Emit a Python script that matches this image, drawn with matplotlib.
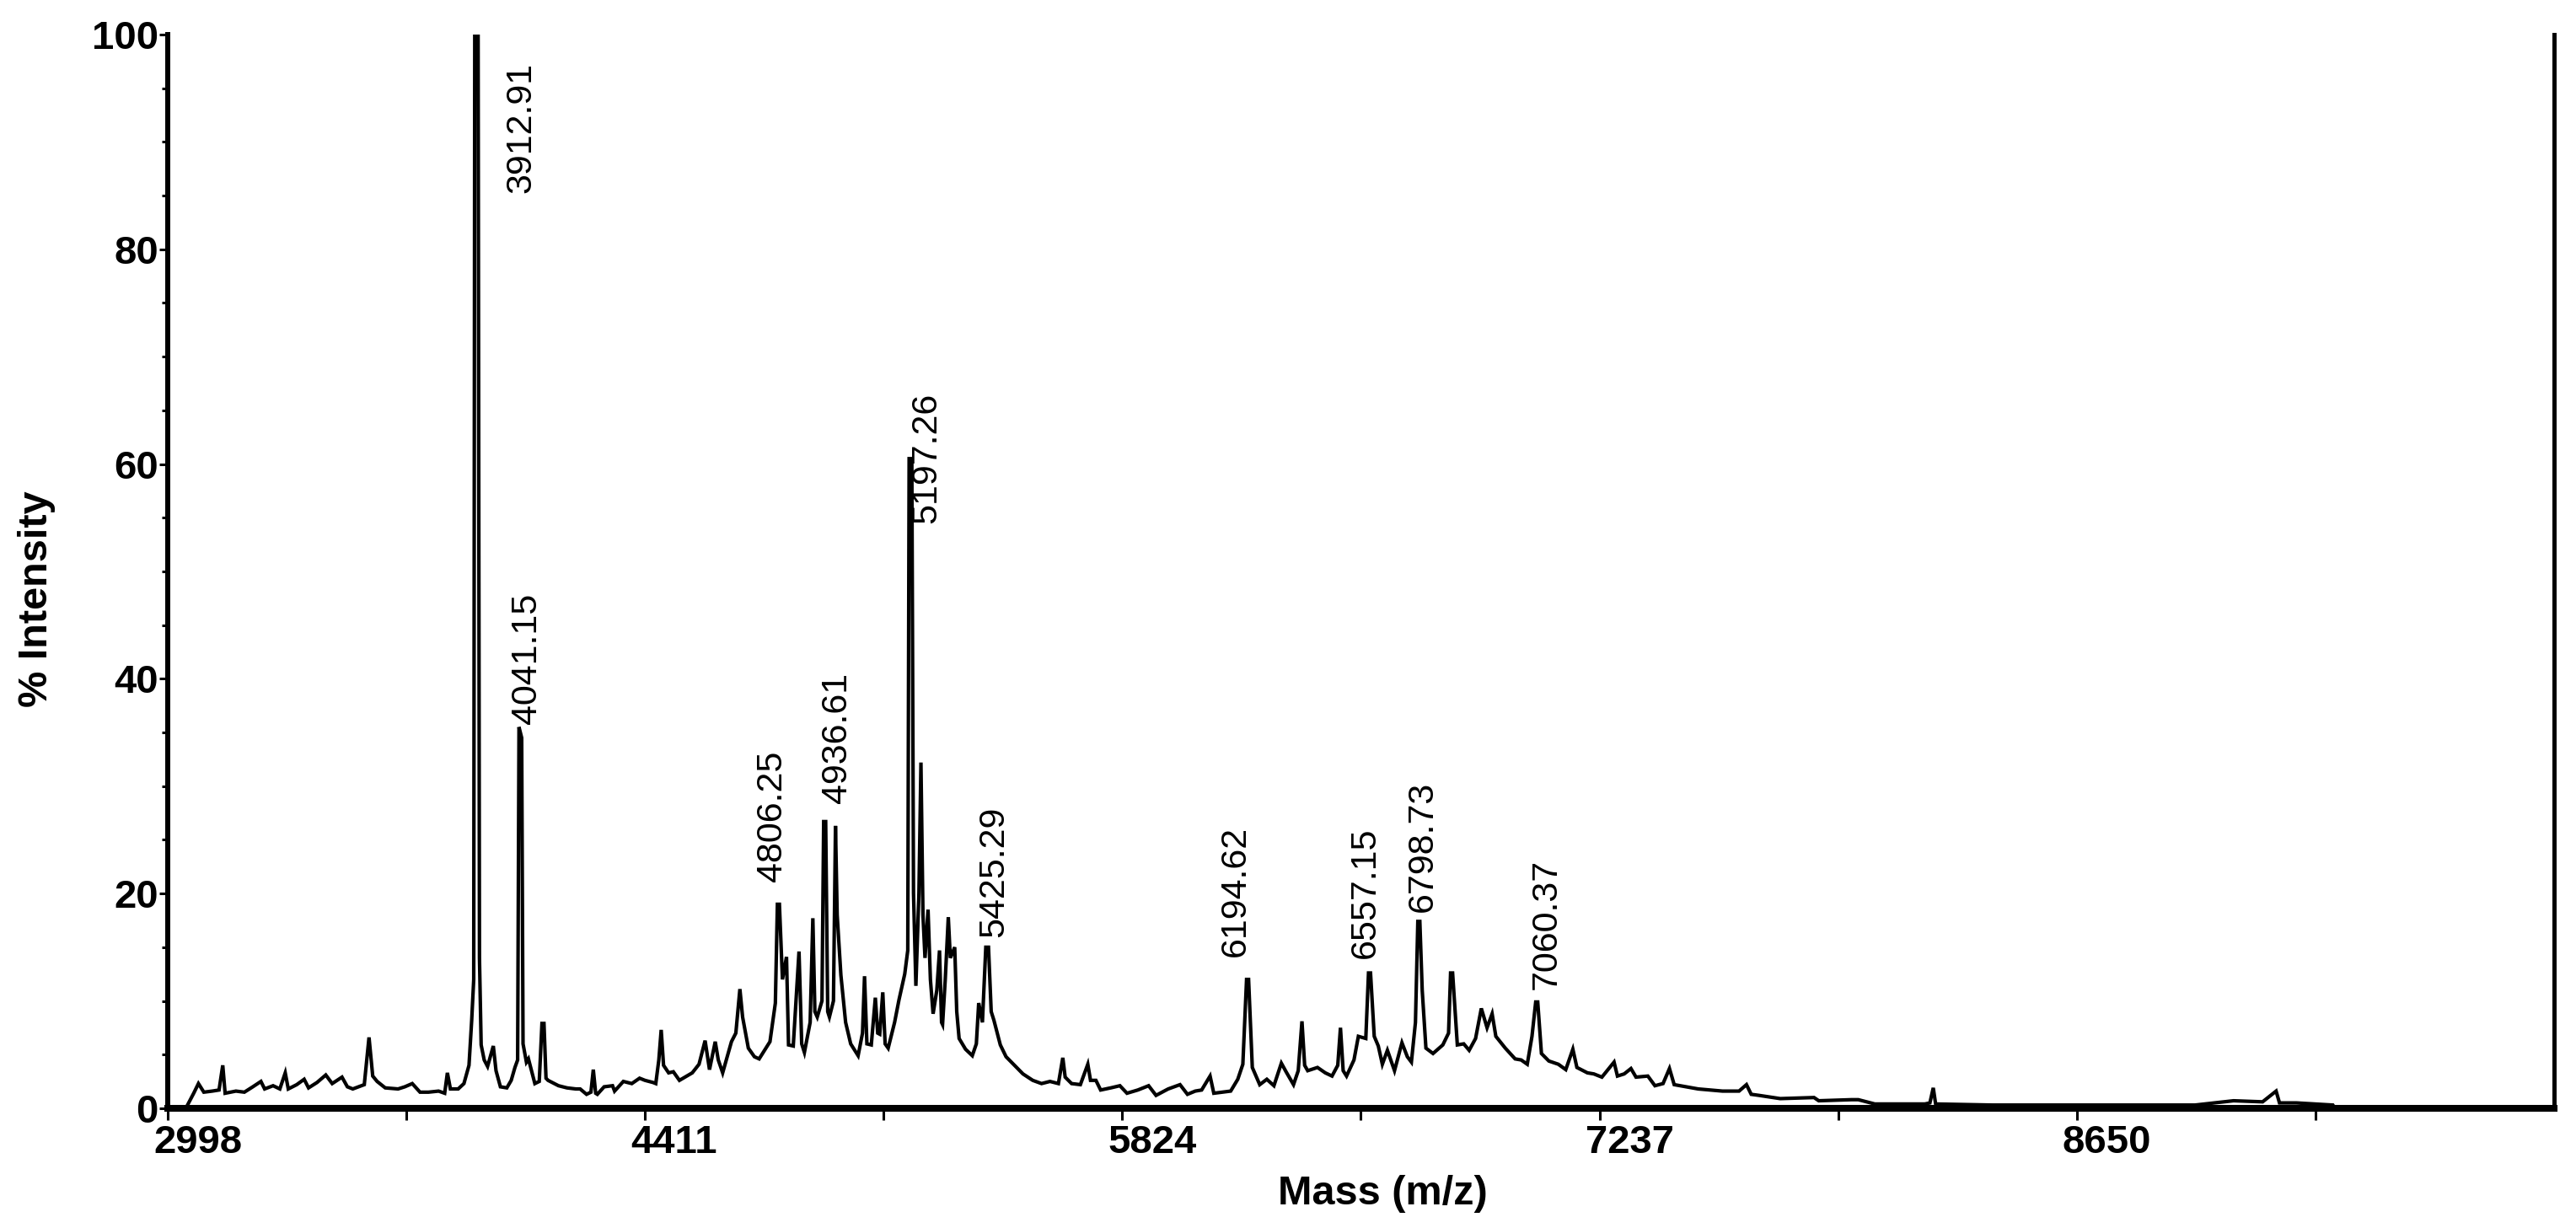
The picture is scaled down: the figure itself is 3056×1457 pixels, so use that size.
# MALDI-TOF mass spectrum, % intensity vs mass (m/z)

import numpy as np
import matplotlib.pyplot as plt
from matplotlib.transforms import ScaledTranslation

# Spectrum trace (mass in m/z, intensity in %) --------------------------------------------------------------

mass = [3055, 3075, 3089, 3105, 3130, 3150, 3161, 3168, 3200, 3225, 3250, 3274, 3285, 3310, 3330,
        3346, 3355, 3380, 3402, 3415, 3440, 3466, 3485, 3514, 3530, 3546, 3580, 3594, 3605, 3618,
        3642, 3680, 3700, 3722, 3745, 3770, 3800, 3818, 3826, 3835, 3858, 3875, 3890, 3898, 3904,
        3907, 3917, 3921, 3926, 3935, 3945, 3962, 3970, 3983, 4002, 4015, 4026, 4034, 4038, 4046,
        4050, 4060, 4066, 4085, 4098, 4106, 4112, 4118, 4124, 4155, 4180, 4206, 4219, 4238, 4251,
        4258, 4265, 4270, 4290, 4315, 4321, 4347, 4372, 4395, 4411, 4435, 4443, 4452, 4459, 4466,
        4481, 4495, 4513, 4535, 4551, 4571, 4589, 4602, 4619, 4628, 4641, 4667, 4680, 4692, 4700,
        4717, 4735, 4749, 4781, 4797, 4803, 4809, 4818, 4830, 4836, 4850, 4867, 4875, 4883, 4900,
        4908, 4914, 4921, 4935, 4940, 4946, 4952, 4957, 4969, 4975, 4980, 4991, 5005, 5020, 5042,
        5055, 5061, 5068, 5081, 5093, 5100, 5106, 5115, 5122, 5131, 5150, 5163, 5180, 5189, 5193,
        5201, 5206, 5213, 5222, 5228, 5234, 5240, 5249, 5256, 5264, 5275, 5283, 5289, 5292, 5300,
        5309, 5315, 5328, 5334, 5341, 5360, 5380, 5392, 5399, 5410, 5420, 5428, 5436, 5444, 5463,
        5480, 5508, 5530, 5559, 5585, 5610, 5635, 5648, 5655, 5674, 5700, 5722, 5730, 5746, 5760,
        5790, 5817, 5838, 5870, 5902, 5924, 5960, 5995, 6017, 6040, 6059, 6084, 6095, 6120, 6145,
        6166, 6181, 6192, 6198, 6209, 6231, 6252, 6273, 6295, 6309, 6331, 6345, 6356, 6364, 6373,
        6402, 6425, 6445, 6462, 6470, 6478, 6488, 6510, 6523, 6545, 6553, 6559, 6570, 6582, 6594,
        6609, 6630, 6652, 6668, 6680, 6692, 6699, 6705, 6712, 6723, 6744, 6773, 6790, 6796, 6802,
        6816, 6835, 6851, 6870, 6887, 6904, 6919, 6930, 6958, 6987, 7005, 7023, 7037, 7048, 7054,
        7065, 7087, 7115, 7137, 7158, 7170, 7201, 7220, 7244, 7280, 7290, 7310, 7330, 7345, 7380,
        7401, 7425, 7444, 7458, 7529, 7601, 7650, 7672, 7686, 7709, 7772, 7872, 7886, 7983, 8003,
        8052, 8200, 8215, 8225, 8232, 8400, 8591, 8800, 9000, 9114, 9200, 9240, 9250, 9300, 9408,
        9414]

intensity = [0.2, 1.4, 2.3, 1.5, 1.6, 1.7, 4.0, 1.4, 1.6, 1.5, 2.0, 2.5, 1.8, 2.1, 1.8,
             3.3, 1.8, 2.2, 2.7, 1.9, 2.4, 3.1, 2.3, 2.9, 2.0, 1.8, 2.2, 6.6, 3.0, 2.5,
             1.9, 1.8, 2.0, 2.3, 1.5, 1.5, 1.6, 1.4, 3.3, 1.8, 1.8, 2.3, 4.0, 8.2, 12.0,
             100.0, 100.0, 14.0, 5.9, 4.5, 3.9, 5.8, 3.5, 2.0, 1.9, 2.6, 3.8, 4.5, 35.5, 34.5,
             6.0, 4.3, 4.6, 2.3, 2.5, 7.9, 7.9, 2.8, 2.6, 2.1, 1.9, 1.8, 1.8, 1.3, 1.5,
             3.6, 1.4, 1.3, 2.0, 2.1, 1.6, 2.5, 2.3, 2.8, 2.6, 2.4, 2.3, 4.5, 7.3, 4.0,
             3.3, 3.4, 2.6, 3.0, 3.3, 4.1, 6.3, 3.6, 6.2, 4.5, 3.3, 6.2, 7.0, 11.1, 8.5,
             5.6, 4.8, 4.6, 6.2, 9.8, 19.0, 19.0, 12.0, 14.1, 5.9, 5.8, 14.6, 6.0, 5.2, 8.0,
             17.7, 9.0, 8.5, 10.0, 26.7, 26.7, 9.0, 8.5, 10.0, 26.3, 18.0, 12.4, 8.0, 6.0, 4.9,
             7.0, 12.3, 6.0, 5.9, 10.3, 7.0, 6.9, 10.8, 6.0, 5.6, 8.0, 10.1, 12.5, 14.7, 60.5,
             60.5, 20.0, 11.4, 20.0, 32.2, 18.0, 14.0, 18.5, 12.0, 8.8, 11.0, 14.7, 8.0, 7.8, 12.0,
             17.8, 14.0, 15.0, 9.0, 6.5, 5.5, 4.9, 6.0, 9.8, 8.0, 15.0, 15.0, 9.0, 8.2, 5.9,
             4.8, 3.9, 3.2, 2.6, 2.3, 2.5, 2.3, 4.7, 2.9, 2.3, 2.2, 4.1, 2.6, 2.6, 1.7,
             1.9, 2.1, 1.4, 1.7, 2.1, 1.2, 1.8, 2.2, 1.3, 1.6, 1.7, 3.0, 1.4, 1.5, 1.6,
             2.7, 4.1, 12.0, 12.0, 3.8, 2.2, 2.7, 2.1, 4.2, 3.4, 2.2, 3.5, 8.1, 4.0, 3.5,
             3.8, 3.3, 3.0, 4.0, 7.5, 3.5, 3.0, 4.5, 6.7, 6.5, 12.6, 12.6, 6.7, 5.8, 4.1,
             5.4, 3.5, 6.1, 4.8, 4.3, 8.0, 17.4, 17.4, 11.0, 5.6, 5.1, 5.9, 7.0, 12.6, 12.6,
             5.9, 6.0, 5.4, 6.5, 9.3, 7.5, 8.8, 6.7, 5.6, 4.6, 4.5, 4.1, 6.7, 9.9, 9.9,
             5.1, 4.4, 4.1, 3.6, 5.5, 3.8, 3.3, 3.2, 2.9, 4.3, 3.0, 3.2, 3.7, 2.9, 3.0,
             2.1, 2.3, 3.7, 2.2, 1.8, 1.6, 1.6, 2.2, 1.3, 1.2, 0.9, 1.0, 0.7, 0.8, 0.8,
             0.4, 0.4, 0.5, 1.9, 0.4, 0.3, 0.3, 0.3, 0.3, 0.7, 0.6, 1.6, 0.5, 0.5, 0.3,
             0.0]

# Labelled peaks and the axis ticks
peak_labels = ['3912.91', '4041.15', '4806.25', '4936.61', '5197.26', '5425.29',
               '6194.62', '6557.15', '6798.73', '7060.37']
x_ticks = [2998, 4411, 5824, 7237, 8650]
y_ticks = [0, 20, 40, 60, 80, 100]


# Figure -----------------------------------------------------------------------------------------------------

fig = plt.figure(figsize=(30.56, 14.57), dpi=100)
ax = fig.add_axes([0.0651, 0.0975, 0.9264, 0.8744])

ax.plot(mass, intensity, color='black', linewidth=3.0, solid_joinstyle='miter')

# where each peak label sits (center mass, bottom of text in %)
label_pos = [(4045, 85.2), (4060, 35.8), (4787, 21.1), (4980, 28.4), (5245, 54.5), (5445, 15.9),
             (6160, 14.1), (6545, 14.0), (6714, 18.3), (7080, 11.1)]
for txt, (lx, ly) in zip(peak_labels, label_pos):
    ax.text(lx, ly, txt, rotation=90, ha='center', va='bottom', fontsize=31,
            family='Liberation Sans', color='black')

ax.set_xlim(2998, 10063)
ax.set_ylim(0, 100)

# spines: no top, heavy bottom
ax.spines['top'].set_visible(False)
ax.spines['bottom'].set_linewidth(5.8)
ax.spines['left'].set_linewidth(4.3)
ax.spines['right'].set_linewidth(3.6)

ax.set_xticks(x_ticks)
ax.set_xticks([t + 706.5 for t in x_ticks], minor=True)
ax.set_yticks(y_ticks)
ax.set_yticks(np.arange(0, 101, 5), minor=True)
ax.set_xticklabels([str(t) for t in x_ticks])
ax.set_yticklabels([str(t) for t in y_ticks])

ax.tick_params(axis='x', which='both', direction='out', length=10, width=2.2, pad=4,
               labelsize=34)
ax.tick_params(axis='y', which='major', direction='out', length=7, width=2.2, pad=1,
               labelsize=34)
ax.tick_params(axis='y', which='minor', direction='out', length=5, width=2.2)
ax.tick_params(which='both', right=False, top=False)

# x tick labels start just left of the tick, as in the original
shift = ScaledTranslation(-17 / 100, 0, fig.dpi_scale_trans)
for lab in ax.get_xticklabels():
    lab.set_ha('left')
    lab.set_transform(lab.get_transform() + shift)
for lab in ax.get_xticklabels() + ax.get_yticklabels():
    lab.set_fontweight('bold')
    lab.set_family('Liberation Sans')

ax.set_xlabel('Mass (m/z)', fontsize=35, fontweight='bold', family='Liberation Sans')
ax.set_ylabel('% Intensity', fontsize=35, fontweight='bold', family='Liberation Sans')
ax.xaxis.set_label_coords(0.509, -0.080)
ax.xaxis.label.set_va('center')
ax.yaxis.set_label_coords(-0.055, 0.474)
ax.yaxis.label.set_va('center')

fig.savefig('out.png', dpi=100, facecolor='white')
